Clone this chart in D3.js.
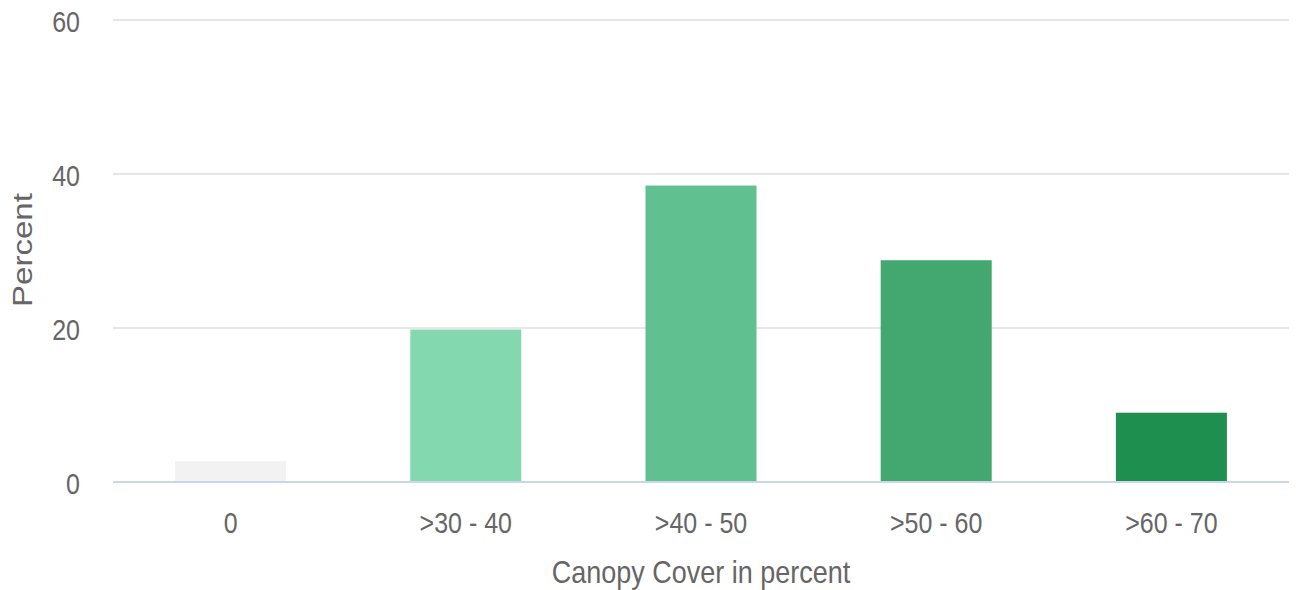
<!DOCTYPE html>
<html>
<head>
<meta charset="utf-8">
<script src="https://cdn.jsdelivr.net/npm/d3@7"></script>
<style>
  html, body { margin: 0; padding: 0; background: #fff; }
  text { font-family: "Liberation Sans", Arial, sans-serif; fill: #666; }
</style>
</head>
<body>
<svg id="chart" width="1296" height="590"></svg>
<script>
const categories = ['0', '>30 - 40', '>40 - 50', '>50 - 60', '>60 - 70'];
const percents = [2.7, 19.8, 38.5, 28.8, 9.0];
const barColors = ['#f2f2f2', '#83d8b0', '#60c090', '#43a870', '#1f8f4f'];
const yTicks = [0, 20, 40, 60];

const plotLeft = 113;
const plotRight = 1289;
const plotTop = 20;
const plotBottom = 482;
const stretch = 1.18; // text in the picture is a bit taller than wide

const svg = d3.select('#chart');

const xscale = d3.scaleBand()
  .domain(categories)
  .range([plotLeft, plotRight])
  .paddingInner(0.528)
  .paddingOuter(0.264);

const yscale = d3.scaleLinear()
  .domain([0, 60])
  .range([plotBottom, plotTop]);

// gridlines
svg.append('g')
  .selectAll('line')
  .data(yTicks.filter(d => d !== 0))
  .enter()
  .append('line')
  .attr('x1', plotLeft)
  .attr('x2', plotRight)
  .attr('y1', d => yscale(d))
  .attr('y2', d => yscale(d))
  .attr('stroke', '#e6e6e6')
  .attr('stroke-width', 2);

// y tick labels
svg.append('g')
  .selectAll('text')
  .data(yTicks)
  .enter()
  .append('text')
  .attr('transform', d => `translate(80, ${yscale(d) + 2}) scale(1, ${stretch})`)
  .attr('text-anchor', 'end')
  .attr('dy', '0.35em')
  .style('font-size', '25px')
  .text(d => d);

// bars
svg.append('g')
  .selectAll('rect')
  .data(percents)
  .enter()
  .append('rect')
  .attr('x', (d, i) => xscale(categories[i]))
  .attr('y', d => yscale(d))
  .attr('width', xscale.bandwidth())
  .attr('height', d => plotBottom - yscale(d))
  .attr('fill', (d, i) => barColors[i]);

// x axis line
svg.append('line')
  .attr('x1', plotLeft)
  .attr('x2', plotRight)
  .attr('y1', plotBottom)
  .attr('y2', plotBottom)
  .attr('stroke', '#ccd6eb')
  .attr('stroke-width', 2);

// x tick labels
svg.append('g')
  .selectAll('text')
  .data(categories)
  .enter()
  .append('text')
  .attr('transform', d => `translate(${xscale(d) + xscale.bandwidth() / 2}, 533) scale(1, ${stretch})`)
  .attr('text-anchor', 'middle')
  .style('font-size', '25px')
  .text(d => d);

// axis titles
svg.append('text')
  .attr('transform', `translate(701, 583) scale(1, ${stretch})`)
  .attr('text-anchor', 'middle')
  .style('font-size', '27px')
  .text('Canopy Cover in percent');

svg.append('text')
  .attr('transform', `translate(32, 250) scale(1, ${stretch}) rotate(-90)`)
  .attr('text-anchor', 'middle')
  .style('font-size', '28px')
  .text('Percent');
</script>
</body>
</html>
